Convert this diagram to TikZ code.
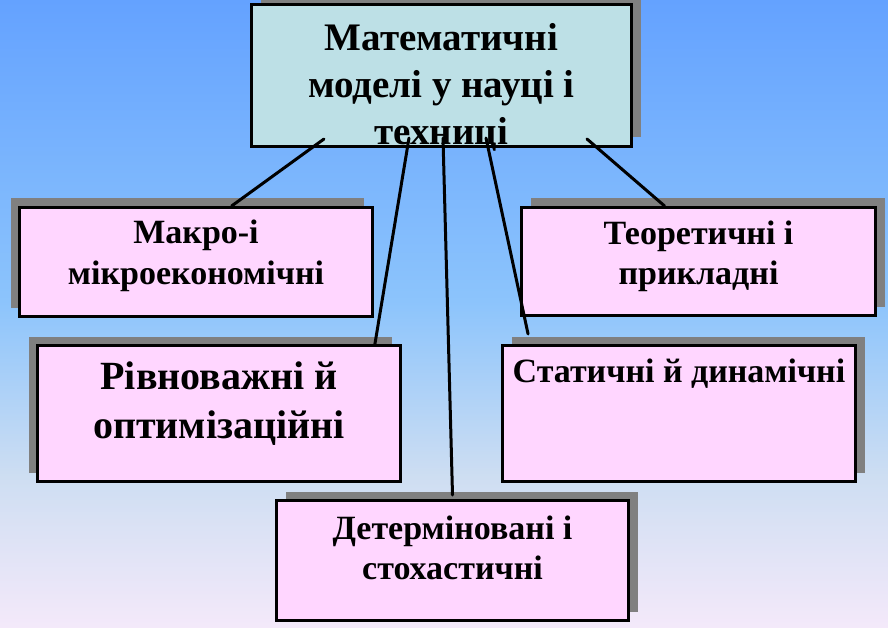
\documentclass[tikz,border=0pt]{standalone}
\usepackage{fontspec}
\setmainfont{Liberation Serif}
\usepackage{xcolor}
\usetikzlibrary{positioning,calc,shadows}

\definecolor{bgtop}{RGB}{100,162,255}
\definecolor{bgmid}{RGB}{140,196,252}
\definecolor{bglow}{RGB}{206,222,242}
\definecolor{bgbot}{RGB}{244,233,250}
\definecolor{topfill}{RGB}{189,224,230}
\definecolor{pinkfill}{RGB}{255,214,255}
\definecolor{shadegray}{RGB}{128,128,128}

\pgfdeclareverticalshading{bgshade}{100bp}{color(0bp)=(bgbot); color(25bp)=(bgbot);
  color(37bp)=(bglow); color(51bp)=(bgmid); color(75bp)=(bgtop); color(100bp)=(bgtop)}

\begin{document}
\begin{tikzpicture}[x=1pt, y=-1pt,
    box/.style={draw=black, line width=3pt, inner sep=0pt},
    rootbox/.style={box, fill=topfill},
    leaf/.style={box, fill=pinkfill},
    shl/.style={general shadow={fill=shadegray, shadow xshift=-8.5pt, shadow yshift=9pt}},
    shr/.style={general shadow={fill=shadegray, shadow xshift=9pt, shadow yshift=9pt}},
    txt/.style={font=\fontsize{34}{41}\selectfont\bfseries, align=center, inner sep=0pt},
    conn/.style={line width=3pt, line cap=round}
  ]
  \useasboundingbox (0,0) rectangle (888,628);
  \shade[shading=bgshade] (0,0) rectangle (888,628);

  % boxes
  \node[rootbox, shr, minimum width=380pt, minimum height=142pt] (top) at (441.5,75.5) {};
  \node[leaf, shl, minimum width=353pt, minimum height=109pt] (mak) at (196,262) {};
  \node[leaf, shr, minimum width=354pt, minimum height=108pt] (teo) at (698.5,261.5) {};
  \node[leaf, shl, minimum width=363pt, minimum height=136pt] (riv) at (219,413.5) {};
  \node[leaf, shr, minimum width=353pt, minimum height=136pt] (sta) at (679,413.5) {};
  \node[leaf, shr, minimum width=352pt, minimum height=120pt] (det) at (452.5,560.5) {};

  % texts
  \node[txt, font=\fontsize{39}{47}\selectfont\bfseries, anchor=north] (topT) at (441.5,23)
    {Математичні\\моделі у науці і\\техниці};
  \node[txt, anchor=north] (makT) at (196,220) {Макро-і\\мікроекономічні};
  \node[txt, font=\fontsize{34}{40}\selectfont\bfseries, anchor=north] (teoT) at (698.5,221)
    {Теоретичні і\\прикладні};
  \node[txt, font=\fontsize{40}{49}\selectfont\bfseries, anchor=north] (rivT) at (219,362)
    {Рівноважні й\\оптимізаційні};
  \node[txt, anchor=north] (staT) at (679,359) {Статичні й динамічні};
  \node[txt, font=\fontsize{34}{40}\selectfont\bfseries, anchor=north] (detT) at (452.5,516)
    {Детерміновані і\\стохастичні};

  % connectors
  \coordinate (sMak) at (324,139);
  \coordinate (sRiv) at (409,138);
  \coordinate (sDet) at (443,138);
  \coordinate (sSta) at (486,138);
  \coordinate (sTeo) at (587,139);
  \draw[conn] (sMak) -- ($(mak.north west)!0.60!(mak.north east)$);
  \draw[conn] (sRiv) -- ($(riv.north west)!0.926!(riv.north east)$);
  \draw[conn] (sDet) -- ([yshift=4pt]det.north);
  \draw[conn] (sSta) -- ($(sta.north west)!0.076!(sta.north east)+(0,-10)$);
  \draw[conn] (sTeo) -- ($(teo.north west)!0.405!(teo.north east)$);
\end{tikzpicture}
\end{document}
